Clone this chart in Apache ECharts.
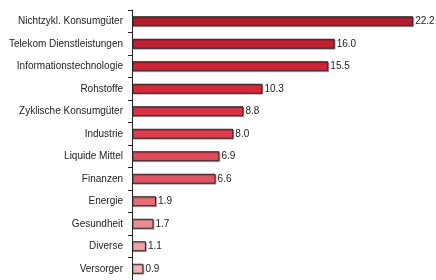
<!DOCTYPE html>
<html>
<head>
<meta charset="utf-8">
<script src="https://cdn.jsdelivr.net/npm/echarts@6/dist/echarts.min.js"></script>
<style>
  html, body { margin: 0; padding: 0; background: #fff; }
  #chart { width: 436px; height: 280px; }
</style>
</head>
<body>
<div id="chart"></div>
<script>
// Sektoren von oben nach unten
const categories = [
  'Nichtzykl. Konsumgüter', 'Telekom Dienstleistungen', 'Informationstechnologie',
  'Rohstoffe', 'Zyklische Konsumgüter', 'Industrie', 'Liquide Mittel', 'Finanzen',
  'Energie', 'Gesundheit', 'Diverse', 'Versorger',
]
const values = [22.2, 16.0, 15.5, 10.3, 8.8, 8.0, 6.9, 6.6, 1.9, 1.7, 1.1, 0.9]
const barColors = [
  '#b01e2d', '#c12031', '#cc2434', '#d62a3b', '#da3343', '#dc3c4b',
  '#df4a57', '#e05461', '#e46d77', '#e98d94', '#efa1a7', '#f2b1b6',
]

const chart = echarts.init(document.getElementById('chart'), null, { renderer: 'canvas' })

chart.setOption({
  animation: false,
  backgroundColor: '#fff',
  textStyle: { fontFamily: 'Liberation Sans, Arial, sans-serif' },
  grid: { left: 132, top: 10, width: 312, height: 272, containLabel: false },
  xAxis: {
    type: 'value', min: 0, max: 24, show: false,
  },
  yAxis: {
    type: 'category',
    inverse: true,
    data: categories,
    axisLine: { show: true, lineStyle: { color: '#222', width: 1 } },
    axisTick: { show: true, length: 4, lineStyle: { color: '#222' } },
    axisLabel: { color: '#222', fontSize: 10, margin: 9 },
    splitLine: { show: false },
  },
  series: [{
    type: 'bar',
    data: values.map((v, i) => ({ value: v, itemStyle: { color: barColors[i] } })),
    barWidth: 10,
    itemStyle: {
      borderColor: '#222', borderWidth: 1,
      shadowColor: 'rgba(0,0,0,0.25)', shadowOffsetX: 1, shadowOffsetY: 1,
    },
    label: {
      show: true, position: 'right', distance: 2,
      color: '#222', fontSize: 10,
      formatter: p => p.value.toFixed(1),
    },
  }],
})
</script>
</body>
</html>
